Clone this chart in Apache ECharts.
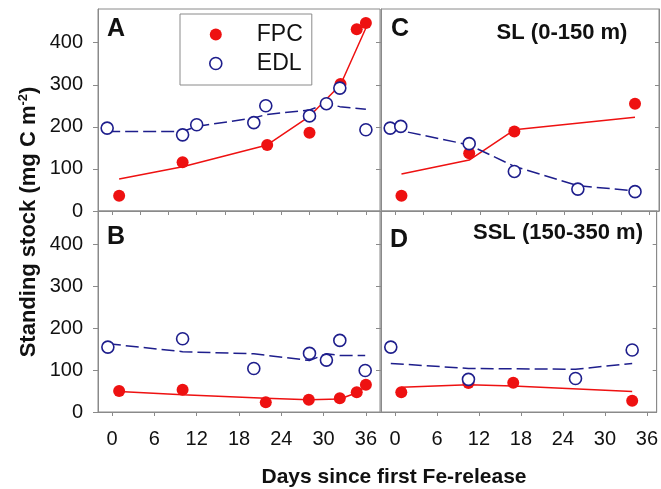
<!DOCTYPE html>
<html>
<head>
<meta charset="utf-8">
<script src="https://cdn.jsdelivr.net/npm/echarts@6/dist/echarts.min.js"></script>
<style>
html, body { margin: 0; padding: 0; background: #fff; }
#chart { width: 661px; height: 489px; }
</style>
</head>
<body>
<div id="chart"></div>
<script>
// panel A (total), FPC points + fit
const dayA_fpc = [1, 10, 22, 28, 32.4, 34.7, 36];
const fpcA = [36, 116, 157, 186, 302, 432, 447];
const fpcA_fit = [76, 105, 157, 225, 300, 386, 435];
// panel A, EDL
const dayA_edl = [-0.7, 10, 12, 20.1, 21.8, 28, 30.4, 32.3, 36];
const edlA = [197, 181, 205, 210, 250, 226, 255, 292, 193];
const edlA_fit = [189, 189, 201, 221, 229, 240, 255, 248, 242];

// panel B
const dayB_fpc = [1, 10, 21.8, 27.9, 32.3, 34.7, 36];
const fpcB = [50, 53, 23, 29, 33, 47, 65];
const fpcB_fit = [49, 41, 33, 29, 31, 46, 61];
const dayB_edl = [-0.6, 10, 20.1, 28, 30.4, 32.3, 35.9];
const edlB = [155, 175, 104, 140, 124, 171, 99];
const edlB_fit = [163, 144, 139, 123, 139, 135, 135];

// panel C : SL (0-150 m)
const dayC_fpc = [0.9, 10.5, 16.9, 34];
const fpcC = [36, 137, 189, 255];
const fpcC_fit = [88, 121, 193, 223];
const dayC_edl = [-0.7, 0.8, 10.5, 16.9, 25.9, 34];
const edlC = [197, 201, 160, 94, 52, 46];
const edlC_fit = [195, 191, 157, 106, 60, 48];

// panel D : SSL (150-350 m)
const dayD_fpc = [0.9, 10.5, 16.9, 33.9];
const fpcD = [47, 69, 70, 27];
const fpcD_fit = [59, 65, 62, 49];
const dayD_edl = [-0.6, 10.5, 25.8, 33.9];
const edlD = [155, 78, 80, 148];
const edlD_fit = [116, 104, 102, 116];

const yTicks = [0, 100, 200, 300, 400];
const xTicksTop = [0, 4, 8, 12, 16, 20, 24, 28, 32, 36];
const xTicksBottom = [0, 6, 12, 18, 24, 30, 36];

const RED = '#ee1111';
const NAVY = '#1e1e8c';
const FRAME = '#8a8a8a';
const FONT = 'Liberation Sans, Arial, sans-serif';

function pts(xs, ys) {
    return xs.map((x, i) => [x, ys[i]]);
}

let chart = echarts.init(document.getElementById('chart'));

// grid order: 0 = A, 1 = C, 2 = B, 3 = D
const grids = [
    { left: 98, top: 9, width: 282, height: 202 },
    { left: 381, top: 9, width: 278, height: 202 },
    { left: 98, top: 211, width: 282, height: 201 },
    { left: 381, top: 211, width: 278, height: 201 }
];

let xAxes = [], yAxes = [];
grids.forEach((g, i) => {
    let bottomRow = i >= 2;
    let leftCol = i % 2 === 0;
    xAxes.push({
        type: 'value', gridIndex: i,
        min: -2, max: leftCol ? 38 : 37.4,
        axisLine: { show: true, onZero: false, lineStyle: { color: FRAME } },
        axisTick: { show: true, length: 4, customValues: bottomRow ? xTicksBottom : xTicksTop, lineStyle: { color: FRAME } },
        axisLabel: { show: bottomRow, customValues: xTicksBottom, margin: 17, color: '#111', fontSize: 20, fontFamily: FONT },
        splitLine: { show: false }
    });
    yAxes.push({
        type: 'value', gridIndex: i,
        min: 0, max: 480,
        axisLine: { show: true, onZero: false, lineStyle: { color: FRAME } },
        axisTick: { show: true, length: 5, customValues: yTicks, lineStyle: { color: FRAME } },
        axisLabel: { show: leftCol, customValues: yTicks, margin: 15, color: '#111', fontSize: 20, fontFamily: FONT },
        splitLine: { show: false }
    });
});
// inner ticks on right border of right panels
[1, 3].forEach(i => {
    yAxes.push({
        type: 'value', gridIndex: i, position: 'right',
        min: 0, max: 480,
        axisLine: { show: true, onZero: false, lineStyle: { color: FRAME } },
        axisTick: { show: true, inside: true, length: 4, customValues: yTicks, lineStyle: { color: FRAME } },
        axisLabel: { show: false },
        splitLine: { show: false }
    });
});

const panels = [
    [dayA_fpc, fpcA, fpcA_fit, dayA_edl, edlA, edlA_fit],
    [dayC_fpc, fpcC, fpcC_fit, dayC_edl, edlC, edlC_fit],
    [dayB_fpc, fpcB, fpcB_fit, dayB_edl, edlB, edlB_fit],
    [dayD_fpc, fpcD, fpcD_fit, dayD_edl, edlD, edlD_fit]
];

let series = [];
panels.forEach((p, i) => {
    series.push({
        type: 'line', xAxisIndex: i, yAxisIndex: i, data: pts(p[0], p[2]),
        symbol: 'none', silent: true, z: 2,
        lineStyle: { color: RED, width: 1.5 }
    });
    series.push({
        type: 'line', xAxisIndex: i, yAxisIndex: i, data: pts(p[3], p[5]),
        symbol: 'none', silent: true, z: 2,
        lineStyle: { color: NAVY, width: 1.5, type: [13, 5] }
    });
    series.push({
        name: 'FPC', type: 'scatter', xAxisIndex: i, yAxisIndex: i, data: pts(p[0], p[1]),
        symbol: 'circle', symbolSize: 12, z: 3,
        itemStyle: { color: RED, opacity: 1 }
    });
    series.push({
        name: 'EDL', type: 'scatter', xAxisIndex: i, yAxisIndex: i, data: pts(p[3], p[4]),
        symbol: 'circle', symbolSize: 12, z: 4,
        itemStyle: { color: '#fff', borderColor: NAVY, borderWidth: 1.6, opacity: 1 }
    });
});

function label(text, x, y, size, align) {
    return {
        type: 'text', x: x, y: y, z: 10,
        style: { text: text, fill: '#111', font: 'bold ' + size + 'px ' + FONT, align: align || 'left', verticalAlign: 'middle' }
    };
}

let option = {
    animation: false,
    grid: grids.map(g => Object.assign({ show: true, borderColor: FRAME, borderWidth: 1, containLabel: false }, g)),
    xAxis: xAxes,
    yAxis: yAxes,
    legend: {
        orient: 'vertical', left: 180, top: 14,
        padding: [9, 9, 10, 29],
        itemGap: 6, itemWidth: 12, itemHeight: 12,
        borderColor: FRAME, borderWidth: 1, backgroundColor: '#fff',
        textStyle: { fontSize: 23, lineHeight: 23, color: '#111', fontFamily: FONT, padding: [0, 0, 0, 30] },
        data: [
            { name: 'FPC', icon: 'circle', itemStyle: { color: RED, opacity: 1 } },
            { name: 'EDL', icon: 'circle', itemStyle: { color: '#fff', borderColor: NAVY, borderWidth: 1.6 } }
        ]
    },
    graphic: [
        label('A', 107, 29, 25),
        label('B', 107, 237, 25),
        label('C', 391, 29, 25),
        label('D', 390, 240, 25),
        label('SL (0-150 m)', 562, 33, 22, 'center'),
        label('SSL (150-350 m)', 558, 233, 22, 'center'),
        label('Days since first Fe-release', 394, 477, 21, 'center'),
        {
            type: 'text', x: 28, y: 222, rotation: Math.PI / 2, z: 10,
            style: {
                text: '{a|Standing stock (mg C m}{s|-2}{a|)}',
                align: 'center', verticalAlign: 'middle',
                rich: {
                    a: { font: 'bold 22px ' + FONT, fill: '#111', verticalAlign: 'bottom' },
                    s: { font: 'bold 13px ' + FONT, fill: '#111', verticalAlign: 'top', padding: [0, 0, 10, 0] }
                }
            }
        }
    ],
    series: series
};
chart.setOption(option);
</script>
</body>
</html>
